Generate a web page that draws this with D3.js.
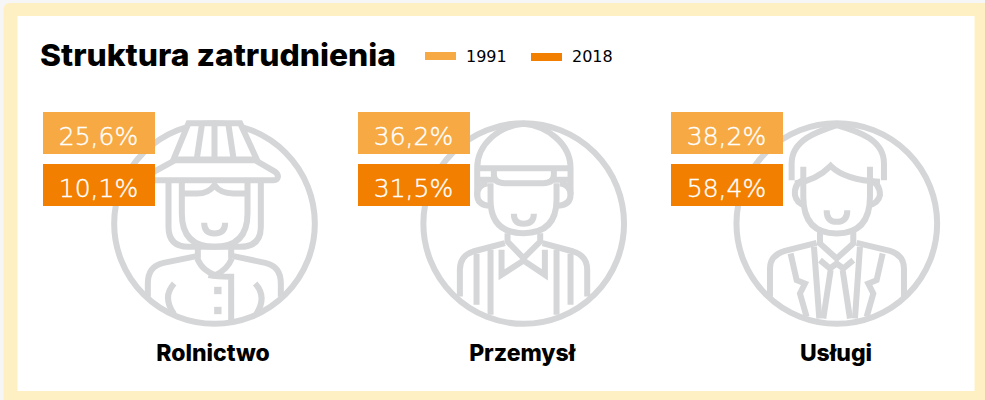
<!DOCTYPE html>
<html>
<head>
<meta charset="utf-8">
<script src="https://cdn.jsdelivr.net/npm/d3@7"></script>
<style>
  html, body { margin: 0; padding: 0; background: #f6f6f6; }
  svg { display: block; }
</style>
</head>
<body>
<svg id="chart" width="985" height="400"></svg>
<script>
var sectors = ["Rolnictwo", "Przemysł", "Usługi"];
var years = ["1991", "2018"];
var values1991 = ["25,6%", "36,2%", "38,2%"];
var values2018 = ["10,1%", "31,5%", "58,4%"];
var yearColors = ["#f7aa43", "#f27f00"];

// icons at 3x, origin is where the circle centre sits
var iconOrigins = [[643, 670], [551.5, 371], [530.5, 370]];
var iconShapes = [
  [
    "M591 775C605 805 620 815 645 825C668 815 685 800 695 775M593 745V775M693 745V775",
    "M590 768L490 788Q443 798 443 850V890M700 768L795 788Q842 798 842 850V890",
    "M625 825Q650 830 693 830V960M522 850Q485 890 522 942M765 850Q802 890 768 942",
    "M505 540V680Q505 740 565 740H720Q782 740 782 680V540",
    "M545 540V640Q545 740 643 740Q742 740 742 640V540",
    "M545 580H590Q625 580 643 555Q660 580 700 580H742",
    "M612 668Q612 700 643 700Q675 700 675 668",
    "M525 480H765L825 515C838 525 835 540 820 540H466C450 540 448 525 461 515Z|w",
    "M565 369H720L770 478H520Z|w",
    "M605 375L590 475M643 375V475M685 375L700 475"
  ],
  [
    "M412 290V205C412 130 480 78 551 72C620 78 692 130 692 205V285|w",
    "M412 205H692M412 240H462M642 240H692",
    "M462 205V225Q462 250 495 250H610Q642 250 642 225V205",
    "M660 250Q692 255 692 285Q692 315 655 318M443 250Q412 255 412 285Q412 315 447 318",
    "M452 250V300Q452 400 551 400Q650 400 650 300V250",
    "M522 342Q522 372 551 372Q582 372 582 342",
    "M503 400V425L551 475L601 425V400",
    "M615 450V525L551 482L485 525V450",
    "M495 430L400 455Q360 468 360 510V590M608 430L700 455Q742 468 742 510V590",
    "M410 462V615M452 450V645M650 450V645M692 462V615"
  ],
  [
    "M395 240V190C395 120 470 95 530 75C600 95 672 120 672 190V240|w",
    "M405 250Q470 240 512 197Q555 240 660 245",
    "M430 240Q402 250 405 285Q410 310 435 315M630 240Q660 250 660 285Q655 310 625 315",
    "M430 200V290Q430 400 530 400Q630 400 630 290V200",
    "M500 330Q500 365 530 365Q562 365 562 330",
    "M480 395V430L530 475L580 430V395",
    "M470 428L375 452Q330 465 330 505V590M590 428L690 452Q732 465 732 505V590",
    "M392 460L410 540L435 550L420 580L440 650M668 460L650 540L625 550L640 580L620 650",
    "M462 440L478 655M600 440L585 655",
    "M480 480L510 505L530 490L550 505L580 480M512 510L490 655M548 510L570 655"
  ]
];

var svg = d3.select("#chart");

var x = d3.scaleOrdinal().domain(sectors).range([214.5, 523.7, 836.8]);
var y = d3.scaleBand().domain(years).range([112, 206]).paddingInner(10 / 52);
var color = d3.scaleOrdinal().domain(years).range(yearColors);
var boxLeft = d3.scaleOrdinal().domain(sectors).range([43, 358, 671]);
var boxW = 112;

// frame
svg.append("rect").attr("x", 3.5).attr("y", 3).attr("width", 1000).attr("height", 420).attr("rx", 6).attr("fill", "#fff0c4");
svg.append("rect").attr("x", 17.5).attr("y", 16).attr("width", 957).attr("height", 375).attr("fill", "#fff");

svg.append("text")
    .attr("x", 40).attr("y", 66)
    .attr("font-family", "Inter").attr("font-weight", 800).attr("font-size", 30.5)
    .attr("textLength", 356).attr("lengthAdjust", "spacingAndGlyphs")
    .attr("fill", "#000")
    .text("Struktura zatrudnienia");

// legend
var legendX = d3.scaleOrdinal().domain(years).range([425, 531]);
var legend = svg.selectAll(".legend").data(years).enter().append("g").attr("class", "legend");
legend.append("rect")
    .attr("x", function(d) { return legendX(d); })
    .attr("y", function(d, i) { return 52 + i; })
    .attr("width", 31).attr("height", 8)
    .attr("fill", function(d) { return color(d); });
legend.append("text")
    .attr("x", function(d) { return legendX(d) + 41; })
    .attr("y", 62)
    .attr("font-family", "DejaVu Sans").attr("font-size", 16)
    .attr("fill", "#000")
    .text(function(d) { return d; });

// sectors
sectors.forEach(function(name, s) {
  var g = svg.append("g");
  var icon = g.append("g")
      .attr("transform", "translate(" + x(name) + ",223.5) scale(" + 1 / 3 + ") translate(" + (-iconOrigins[s][0]) + "," + (-iconOrigins[s][1]) + ")")
      .attr("fill", "none").attr("stroke", "#d5d6d8").attr("stroke-width", 18);

  icon.append("circle")
      .attr("cx", iconOrigins[s][0]).attr("cy", iconOrigins[s][1]).attr("r", 301);

  iconShapes[s].forEach(function(p) {
    var parts = p.split("|");
    icon.append("path").attr("d", parts[0]).attr("fill", parts[1] ? "#fff" : "none");
  });

  if (s == 0) {
    icon.selectAll(".button").data([860, 920]).enter().append("rect")
        .attr("x", 642).attr("y", function(d) { return d; })
        .attr("width", 22).attr("height", 22)
        .attr("fill", "#d5d6d8").attr("stroke", "none");
  }

  var rows = [values1991[s], values2018[s]];
  rows.forEach(function(v, i) {
    g.append("rect")
        .attr("x", boxLeft(name)).attr("y", y(years[i]))
        .attr("width", boxW).attr("height", y.bandwidth())
        .attr("fill", color(years[i]));
    g.append("text")
        .attr("x", boxLeft(name) + boxW / 2 - 0.5).attr("y", y(years[i]) + 32.5)
        .attr("text-anchor", "middle")
        .attr("font-family", "DejaVu Sans").attr("font-weight", 200).attr("font-size", 25)
        .attr("stroke", "#fff").attr("stroke-width", 0.4)
        .attr("fill", "#fff")
        .text(v);
  });

  g.append("text")
      .attr("x", x(name) - (s == 2 ? 0.8 : 1.5)).attr("y", 361)
      .attr("text-anchor", "middle")
      .attr("font-family", "Inter").attr("font-weight", 800).attr("font-size", 23)
      .attr("fill", "#000")
      .text(name);
});
</script>
</body>
</html>
